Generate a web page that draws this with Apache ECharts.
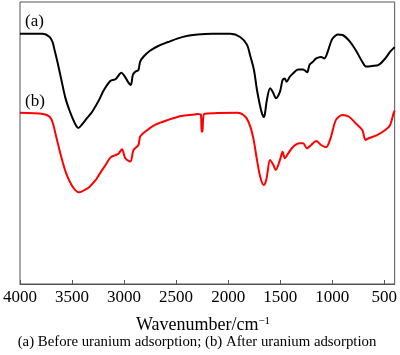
<!DOCTYPE html>
<html><head><meta charset="utf-8">
<script src="https://cdn.jsdelivr.net/npm/echarts@6/dist/echarts.min.js"></script>
<style>html,body{margin:0;padding:0;background:#fff}#c{width:400px;height:355px}</style>
</head><body><div id="c"></div>
<script>
// wavenumber (cm^-1) and transmittance-like values (arbitrary units, 0-100)
const waveA = [4000,3782,3715,3687,3668,3640,3602,3564,3526,3488,3459,3440,3402,3355,3308,3241,3194,3130,3083,3026,2988,2963,2935,2916,2893,2862,2846,2814,2751,2672,2577,2482,2387,2292,2150,1979,1885,1818,1790,1752,1723,1695,1676,1660,1647,1628,1597,1572,1540,1502,1477,1455,1439,1407,1375,1328,1280,1249,1239,1218,1186,1154,1107,1075,1043,1012,993,948,901,838,775,711,675,616,554,490,443,400];
const valA  = [88.7,88.7,87.6,85.8,83.0,78.7,72.3,66.0,61.7,58.2,56.0,55.3,56.7,58.9,61.0,65.2,68.8,72.1,72.6,74.9,73.3,71.7,70.6,74.1,75.3,75.9,78.8,80.6,82.7,84.4,85.8,87.1,88.0,88.5,88.7,88.7,87.6,84.8,81.2,75.9,68.8,63.5,60.6,59.2,60.3,65.2,69.4,68.2,65.9,68.2,72.3,72.9,71.7,73.5,74.7,76.1,76.1,75.3,75.1,77.7,78.8,80.0,80.5,80.0,82.4,85.9,87.2,88.5,88.3,86.3,83.0,78.8,77.1,77.3,77.7,80.0,82.4,84.0];
const waveB = [4000,3779,3715,3684,3652,3604,3557,3494,3431,3367,3336,3272,3241,3178,3130,3083,3051,3020,2988,2940,2909,2862,2846,2798,2703,2577,2451,2324,2293,2261,2255,2247,2229,2103,1913,1834,1787,1755,1723,1692,1660,1643,1628,1597,1565,1543,1502,1477,1455,1423,1375,1313,1280,1242,1202,1154,1107,1059,1012,964,901,838,775,711,680,649,569,490,443,411,400];
const valB  = [60.7,60.3,59.3,57.0,52.2,45.1,39.3,34.5,32.5,33.6,34.3,36.9,38.7,42.2,44.9,45.7,46.3,47.8,44.6,43.4,47.5,49.3,52.2,54.0,56.4,58.2,59.6,60.1,60.3,59.9,54.0,54.3,60.3,60.6,60.7,59.3,55.8,51.1,44.0,38.0,35.1,35.8,38.0,44.0,42.2,40.4,44.0,46.9,44.6,46.3,48.7,49.9,49.9,48.1,49.3,50.7,49.3,48.5,52.2,58.2,59.9,59.3,57.0,54.6,51.1,51.7,52.8,54.6,56.4,60.5,61.5];
const xTicks = [4000,3500,3000,2500,2000,1500,1000,500];
const seriesLabels = ['(a)','(b)'];
const xTitle = 'Wavenumber/cm';
const caption = '(a) Before uranium adsorption; (b) After uranium adsorption';

const toPts = (w, v) => w.map((x, i) => [-x, v[i]]);
const chart = echarts.init(document.getElementById('c'), null, {renderer: 'canvas'});
const serif = 'Liberation Serif';
chart.setOption({
  animation: false,
  grid: {left: 20, right: 1, top: 2, bottom: 71, show: true, borderColor: '#555', borderWidth: 1, containLabel: false},
  xAxis: {
    type: 'value', min: -4000, max: -400, interval: 500,
    axisLine: {show: true, onZero: false, lineStyle: {color: '#555', width: 1}},
    axisTick: {show: true, inside: true, length: 4, lineStyle: {color: '#555'}},
    splitLine: {show: false},
    axisLabel: {show: true, margin: 5, color: '#000', fontFamily: serif, fontSize: 17, showMaxLabel: false,
      formatter: v => (xTicks.indexOf(-v) >= 0 ? String(-v) : '')}
  },
  yAxis: {
    type: 'value', min: 0, max: 100,
    axisLine: {show: false}, axisTick: {show: false}, axisLabel: {show: false}, splitLine: {show: false}
  },
  series: [
    {type: 'line', data: toPts(waveA, valA), showSymbol: false, smooth: 0.3, lineStyle: {color: '#000', width: 2}, z: 3},
    {type: 'line', data: toPts(waveB, valB), showSymbol: false, smooth: 0.3, lineStyle: {color: '#ff0000', width: 2}, z: 2}
  ],
  graphic: [
    {type: 'text', left: 25, top: 13, style: {text: seriesLabels[0], font: '17px "Liberation Serif"', fill: '#000'}},
    {type: 'text', left: 25, top: 93, style: {text: seriesLabels[1], font: '17px "Liberation Serif"', fill: '#000'}},
    {type: 'text', x: 203, y: 325, style: {text: '{m|' + xTitle + '}{s|−1}', align: 'center', verticalAlign: 'middle',
      rich: {m: {fontFamily: serif, fontSize: 18, fill: '#000', color: '#000'}, s: {fontFamily: serif, fontSize: 11, color: '#000', verticalAlign: 'top', padding: [0,0,8,0]}}}},
    {type: 'text', x: 197, y: 342, style: {text: caption, align: 'center', verticalAlign: 'middle', font: '14.8px "Liberation Serif"', fill: '#000'}}
  ]
});
</script></body></html>
